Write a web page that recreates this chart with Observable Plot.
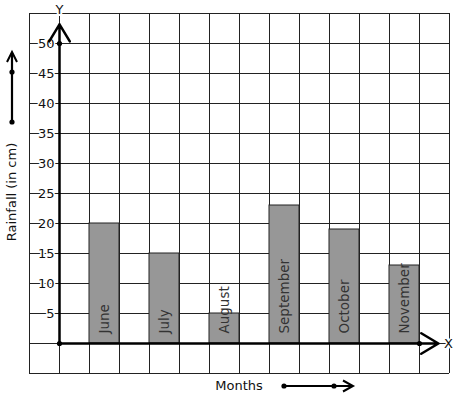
<!DOCTYPE html>
<html>
<head>
<meta charset="utf-8">
<script src="https://cdn.jsdelivr.net/npm/d3@7"></script>
<script src="https://cdn.jsdelivr.net/npm/@observablehq/plot@0.6"></script>
<style>
  html, body { margin: 0; padding: 0; background: #fff; }
  #chart svg { display: block; }
</style>
</head>
<body>
<div id="chart"></div>
<script>
const months = ["June", "July", "August", "September", "October", "November"];
const rainfall = [20, 15, 5, 23, 19, 13];
const yTicks = [5, 10, 15, 20, 25, 30, 35, 40, 45, 50];
const xTitle = "Months";
const yTitle = "Rainfall (in cm)";

const bars = months.map((m, i) => ({month: m, value: rainfall[i], x1: 2 * i + 1, x2: 2 * i + 2}));
const ticks = yTicks.map(v => ({v}));
const font = "DejaVu Sans, sans-serif";

const plot = Plot.plot({
  width: 457,
  height: 399,
  marginLeft: 29,
  marginRight: 8,
  marginTop: 13,
  marginBottom: 26,
  style: {fontFamily: font, background: "#fff"},
  x: {type: "linear", domain: [-1, 13], axis: null},
  y: {type: "linear", domain: [-5, 55], axis: null},
  marks: [
    Plot.gridX(d3.range(-1, 14), {stroke: "#222", strokeOpacity: 1, strokeWidth: 1}),
    Plot.gridY(d3.range(-5, 56, 5), {stroke: "#222", strokeOpacity: 1, strokeWidth: 1}),
    Plot.rectY(bars, {x1: "x1", x2: "x2", y1: 0, y2: "value", fill: "#979797", stroke: "#222", strokeWidth: 1, inset: 0}),
    Plot.text(bars, {x: d => (d.x1 + d.x2) / 2, y: 0, text: "month", rotate: -90, textAnchor: "start", dy: -10, fontSize: 13.5, fill: "#333", fontFamily: font}),
    Plot.text(ticks, {x: 0, y: "v", text: d => String(d.v), textAnchor: "end", dx: -5, fontSize: 13, fill: "#111", stroke: "#fff", strokeWidth: 3, fontFamily: font}),
    Plot.arrow([{x1: 0, y1: 0, x2: 0, y2: 53.2}], {x1: "x1", y1: "y1", x2: "x2", y2: "y2", stroke: "#000", strokeWidth: 2.5, headLength: 12, headAngle: 62}),
    Plot.arrow([{x1: 0, y1: 0, x2: 12.63, y2: 0}], {x1: "x1", y1: "y1", x2: "x2", y2: "y2", stroke: "#000", strokeWidth: 2.5, headLength: 12, headAngle: 62}),
    Plot.dot([{x: 0, y: 0}, {x: 0, y: 50}, {x: 12, y: 0}], {x: "x", y: "y", r: 2.6, fill: "#000", stroke: null}),
    Plot.text([{t: "Y"}], {x: 0, y: 55, text: "t", dy: -4, fontSize: 13, fill: "#111", stroke: "#fff", strokeWidth: 4, fontFamily: font}),
    Plot.text([{t: "X"}], {x: 12.63, y: 0, text: "t", dx: 10, fontSize: 13, fill: "#111", stroke: "#fff", strokeWidth: 3, fontFamily: font})
  ]
});

document.getElementById("chart").appendChild(plot);

// Decorations outside the plotting area: axis titles with direction arrows
const svg = d3.select(plot);
const g = svg.append("g").attr("font-family", font);
g.append("text").attr("x", 239).attr("y", 386).attr("text-anchor", "middle")
  .attr("dominant-baseline", "middle").attr("font-size", 13).attr("fill", "#111").text(xTitle);
g.append("text").attr("transform", "translate(12,192) rotate(-90)").attr("text-anchor", "middle")
  .attr("dominant-baseline", "middle").attr("font-size", 13).attr("fill", "#111").text(yTitle);

// months arrow
g.append("line").attr("x1", 284).attr("y1", 386).attr("x2", 352).attr("y2", 386).attr("stroke", "#000").attr("stroke-width", 2.2);
g.append("path").attr("d", "M343,380.5L353,386L343,391.5").attr("fill", "none").attr("stroke", "#000").attr("stroke-width", 2);
g.append("circle").attr("cx", 284).attr("cy", 386).attr("r", 2.6).attr("fill", "#000");
g.append("circle").attr("cx", 334).attr("cy", 386).attr("r", 2.6).attr("fill", "#000");
// rainfall arrow
g.append("line").attr("x1", 12).attr("y1", 122).attr("x2", 12).attr("y2", 53).attr("stroke", "#000").attr("stroke-width", 2.2);
g.append("path").attr("d", "M7,62L12,52L17,62").attr("fill", "none").attr("stroke", "#000").attr("stroke-width", 2);
g.append("circle").attr("cx", 12).attr("cy", 122).attr("r", 2.6).attr("fill", "#000");
g.append("circle").attr("cx", 12).attr("cy", 72).attr("r", 2.6).attr("fill", "#000");
</script>
</body>
</html>
